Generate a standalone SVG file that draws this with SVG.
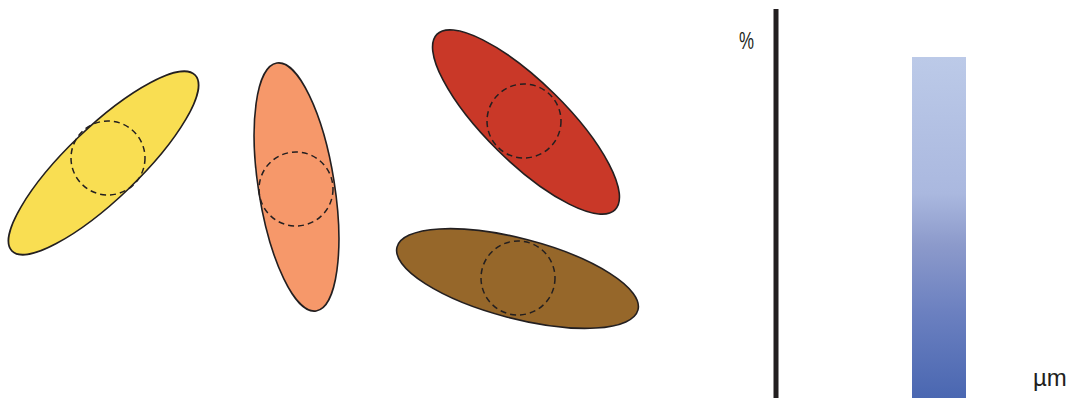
<svg xmlns="http://www.w3.org/2000/svg" width="1079" height="398" viewBox="0 0 1079 398">
<style>
.cell{stroke:#231f20;stroke-width:1.6}
.core{fill:none;stroke:#231f20;stroke-width:1.5;stroke-dasharray:6 4}
.lbl{font-family:"Liberation Sans",Arial,sans-serif;font-size:24px;fill:#231f20}
</style>
<defs>
<linearGradient id="bar" x1="0" y1="0" x2="0" y2="1">
<stop offset="0" stop-color="#bccae8"/>
<stop offset="0.4" stop-color="#aab8df"/>
<stop offset="0.55" stop-color="#8c9acb"/>
<stop offset="0.75" stop-color="#6b80c0"/>
<stop offset="1" stop-color="#4a67b1"/>
</linearGradient>
</defs>
<rect width="1079" height="398" fill="#ffffff"/>
<g id="yellow">
<ellipse class="cell" cx="103.5" cy="163" rx="127" ry="36" fill="#f9de52" transform="rotate(-43.8 103.5 163)"/>
<circle class="core" cx="108" cy="158" r="37"/>
</g>
<g id="orange">
<ellipse class="cell" cx="296.5" cy="187" rx="38" ry="125.5" fill="#f6986a" transform="rotate(-9 296.5 187)"/>
<circle class="core" cx="296" cy="189" r="37"/>
</g>
<g id="red">
<ellipse class="cell" cx="526" cy="122" rx="125" ry="40" fill="#c93828" transform="rotate(44.5 526 122)"/>
<circle class="core" cx="524" cy="121" r="37"/>
</g>
<g id="brown">
<ellipse class="cell" cx="517.5" cy="278.5" rx="124.5" ry="40" fill="#96672a" transform="rotate(14.6 517.5 278.5)"/>
<circle class="core" cx="518" cy="278" r="37"/>
</g>
<g id="connectors"></g>
<g id="axis">
<line x1="776" y1="9" x2="776" y2="398" stroke="#231f20" stroke-width="5"/>
<text class="lbl" x="739" y="49" textLength="15" lengthAdjust="spacingAndGlyphs">%</text>
</g>
<g id="bar-node">
<rect x="912" y="57" width="54" height="341" fill="url(#bar)"/>
</g>
<text class="lbl" x="1033" y="386">µm</text>
</svg>
